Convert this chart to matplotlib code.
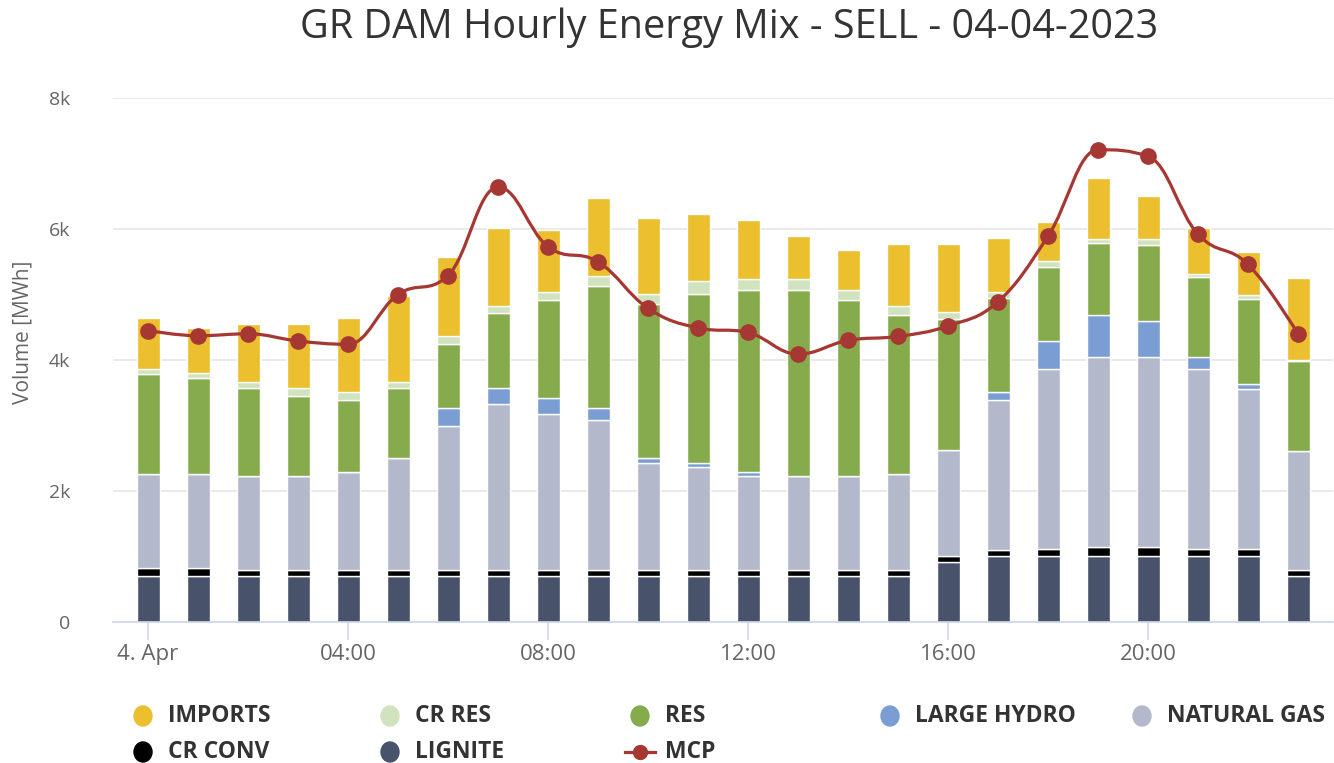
import numpy as np
import matplotlib
matplotlib.use("Agg")
import matplotlib.pyplot as plt
from matplotlib.path import Path
from matplotlib.patches import PathPatch, Ellipse
from matplotlib.lines import Line2D

plt.rcParams['font.family'] = ['Open Sans', 'DejaVu Sans']

# hourly data (MWh)
hours = list(range(24))
lignite = [700, 700, 700, 700, 700, 700, 700, 700, 700, 700, 700, 700,
           700, 700, 700, 700, 920, 1010, 1010, 1010, 1010, 1010, 1010, 700]
cr_conv = [120, 120, 90, 90, 90, 90, 90, 90, 90, 90, 90, 90,
           90, 90, 90, 90, 90, 90, 100, 130, 130, 100, 100, 90]
natural_gas = [1440, 1440, 1440, 1440, 1500, 1710, 2210, 2540, 2390, 2290, 1630, 1570,
               1440, 1440, 1440, 1470, 1620, 2290, 2750, 2900, 2900, 2750, 2440, 1820]
large_hydro = [0, 0, 0, 0, 0, 0, 270, 250, 240, 190, 90, 60,
               60, 0, 0, 0, 0, 120, 430, 640, 550, 180, 90, 0]
res = [1530, 1470, 1340, 1220, 1100, 1070, 980, 1130, 1500, 1860, 2350, 2590,
       2780, 2840, 2690, 2420, 1990, 1440, 1130, 1100, 1160, 1220, 1290, 1370]
cr_res = [70, 70, 100, 120, 120, 100, 120, 120, 120, 160, 150, 190,
          160, 160, 150, 150, 120, 90, 90, 70, 90, 60, 60, 20]
imports = [780, 690, 880, 980, 1130, 1310, 1210, 1190, 940, 1180, 1160, 1030,
           910, 660, 610, 940, 1030, 820, 600, 930, 660, 700, 660, 1250]
# MCP plotted on the volume scale
mcp = [4450, 4370, 4400, 4290, 4240, 5000, 5290, 6640, 5730, 5500, 4790, 4490,
       4420, 4090, 4300, 4360, 4520, 4890, 5890, 7210, 7110, 5920, 5460, 4400]

tick_hours = [0, 4, 8, 12, 16, 20]
tick_labels = ['4. Apr', '04:00', '08:00', '12:00', '16:00', '20:00']

series = [
    ('LIGNITE', lignite, '#48536b'),
    ('CR CONV', cr_conv, '#000000'),
    ('NATURAL GAS', natural_gas, '#b3b8cb'),
    ('LARGE HYDRO', large_hydro, '#7a9dd3'),
    ('RES', res, '#86ab4c'),
    ('CR RES', cr_res, '#d0e2be'),
    ('IMPORTS', imports, '#ebbf2e'),
]
colors = {name: c for name, _, c in series}
mcp_color = '#a63732'

W, H = 1334, 763
fig = plt.figure(figsize=(W / 100, H / 100), dpi=100)
ax = fig.add_axes([113 / W, 1 - 622 / H, 1220 / W, 524 / H])

bottom = np.zeros(24)
for name, vals, col in series:
    v = np.array(vals, dtype=float)
    ax.bar(hours, v, bottom=bottom, width=0.46, color=col,
           edgecolor='white', linewidth=1, zorder=2)
    bottom += v


# highcharts-like spline through the MCP points
def spline_path(x, y, smoothing=1.5):
    n = len(x)
    lc = [(x[i], y[i]) for i in range(n)]
    rc = [(x[i], y[i]) for i in range(n)]
    for i in range(1, n - 1):
        px, py = x[i], y[i]
        lx, ly = x[i - 1], y[i - 1]
        nx, ny = x[i + 1], y[i + 1]
        d = smoothing + 1
        lcx = (smoothing * px + lx) / d
        lcy = (smoothing * py + ly) / d
        rcx = (smoothing * px + nx) / d
        rcy = (smoothing * py + ny) / d
        corr = ((rcy - lcy) * (rcx - px)) / (rcx - lcx) + py - rcy
        lcy += corr
        rcy += corr
        if lcy > ly and lcy > py:
            lcy = max(ly, py)
            rcy = 2 * py - lcy
        elif lcy < ly and lcy < py:
            lcy = min(ly, py)
            rcy = 2 * py - lcy
        if rcy > ny and rcy > py:
            rcy = max(ny, py)
            lcy = 2 * py - rcy
        elif rcy < ny and rcy < py:
            rcy = min(ny, py)
            lcy = 2 * py - rcy
        lc[i] = (lcx, lcy)
        rc[i] = (rcx, rcy)
    verts = [(x[0], y[0])]
    codes = [Path.MOVETO]
    for i in range(1, n):
        verts += [rc[i - 1], lc[i], (x[i], y[i])]
        codes += [Path.CURVE4] * 3
    return Path(verts, codes)


ax.add_patch(PathPatch(spline_path(hours, mcp), facecolor='none',
                       edgecolor=mcp_color, linewidth=2.3, zorder=3,
                       capstyle='round', joinstyle='round'))
ax.plot(hours, mcp, 'o', color=mcp_color, markersize=11, zorder=4)

ax.set_xlim(-0.7, 23.7)
ax.set_ylim(0, 8000)
ax.set_yticks([0, 2000, 4000, 6000, 8000])
ax.set_yticklabels(['0', '2k', '4k', '6k', '8k'])
ax.set_xticks(tick_hours)
ax.set_xticklabels(tick_labels)
ax.grid(axis='y', color='#e6e6e6', linewidth=1.2, zorder=0)
ax.set_axisbelow(True)
for s in ['top', 'right', 'left']:
    ax.spines[s].set_visible(False)
ax.spines['bottom'].set_color('#ccd6eb')
ax.spines['bottom'].set_linewidth(1.2)
ax.spines['bottom'].set_zorder(5)
ax.tick_params(axis='y', length=0, pad=31, labelsize=14, labelcolor='#666666')
ax.tick_params(axis='x', length=13, color='#ccd6eb', width=1.2, pad=3,
               labelsize=16, labelcolor='#666666')

fig.text(23 / W, 1 - 332 / H, 'Volume [MWh]', rotation=90, ha='center',
         va='center', fontsize=15, color='#666666')
fig.text(729 / W, 1 - 28 / H, 'GR DAM Hourly Energy Mix - SELL - 04-04-2023',
         ha='center', va='center', fontsize=28.5, color='#333333')

# legend laid out like the original, row by row
legend_items = [
    ('IMPORTS', 143, 716), ('CR RES', 390, 716), ('RES', 640, 716),
    ('LARGE HYDRO', 890, 716), ('NATURAL GAS', 1142, 716),
    ('CR CONV', 143, 752), ('LIGNITE', 390, 752), ('MCP', 640, 752),
]
for name, px, py in legend_items:
    fx, fy = px / W, 1 - py / H
    if name == 'MCP':
        fig.add_artist(Line2D([(px - 15) / W, (px + 15) / W], [fy, fy],
                              color=mcp_color, linewidth=2.3,
                              transform=fig.transFigure))
        fig.add_artist(Line2D([fx], [fy], marker='o', markersize=10,
                              color=mcp_color, transform=fig.transFigure))
    else:
        fig.add_artist(Ellipse((fx, fy), 18 / W, 20 / H,
                               color=colors[name], transform=fig.transFigure))
    fig.text((px + 25) / W, fy, name, ha='left', va='center', fontsize=16.5,
             fontweight='bold', color='#333333')

fig.savefig('out.png', dpi=100, facecolor='white')
